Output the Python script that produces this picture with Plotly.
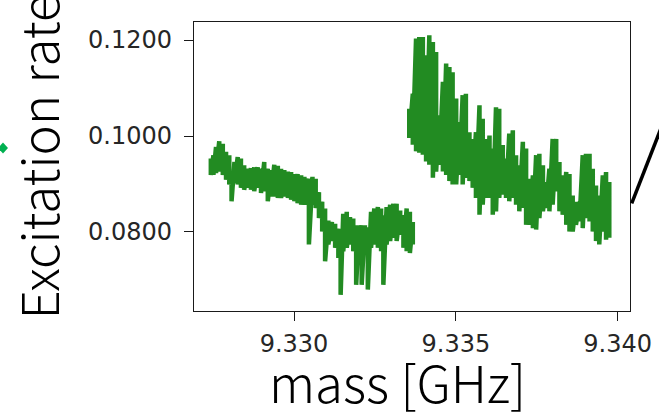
import plotly.graph_objects as go

# ---- data ----
mass_low = [9.32743, 9.32751, 9.32759, 9.32769, 9.32780, 9.32790, 9.32800, 9.32807, 9.32816, 9.32826,
            9.32836, 9.32846, 9.32857, 9.32867, 9.32877, 9.32888, 9.32898, 9.32908, 9.32919, 9.32929,
            9.32939, 9.32950, 9.32960, 9.32970, 9.32981, 9.32991, 9.33001, 9.33011, 9.33022, 9.33032,
            9.33046, 9.33057, 9.33067, 9.33077, 9.33087, 9.33096, 9.33106, 9.33117, 9.33127, 9.33137,
            9.33144, 9.33152, 9.33163, 9.33173, 9.33183, 9.33192, 9.33201, 9.33209, 9.33219, 9.33228,
            9.33238, 9.33248, 9.33259, 9.33269, 9.33276, 9.33286, 9.33297, 9.33307, 9.33317, 9.33328,
            9.33338, 9.33348, 9.33358, 9.33367]
rate_low_hi = [0.0953, 0.0960, 0.0977, 0.0989, 0.0984, 0.0967, 0.0960, 0.0925, 0.0946, 0.0956,
               0.0953, 0.0939, 0.0932, 0.0933, 0.0935, 0.0935, 0.0932, 0.0946, 0.0932, 0.0929,
               0.0940, 0.0938, 0.0932, 0.0929, 0.0926, 0.0925, 0.0921, 0.0921, 0.0918, 0.0915,
               0.0911, 0.0915, 0.0911, 0.0883, 0.0863, 0.0849, 0.0824, 0.0821, 0.0817, 0.0807,
               0.0800, 0.0838, 0.0842, 0.0831, 0.0828, 0.0814, 0.0814, 0.0814, 0.0814, 0.0810,
               0.0842, 0.0849, 0.0852, 0.0849, 0.0835, 0.0852, 0.0857, 0.0859, 0.0859, 0.0845,
               0.0835, 0.0849, 0.0842, 0.0821]
rate_low_lo = [0.0919, 0.0919, 0.0923, 0.0926, 0.0919, 0.0909, 0.0899, 0.0864, 0.0902, 0.0899,
               0.0892, 0.0888, 0.0892, 0.0888, 0.0885, 0.0892, 0.0881, 0.0885, 0.0864, 0.0874,
               0.0874, 0.0871, 0.0871, 0.0874, 0.0871, 0.0867, 0.0864, 0.0860, 0.0857, 0.0857,
               0.0774, 0.0857, 0.0850, 0.0829, 0.0801, 0.0739, 0.0774, 0.0781, 0.0767, 0.0746,
               0.0669, 0.0760, 0.0767, 0.0774, 0.0760, 0.0690, 0.0760, 0.0690, 0.0760, 0.0680,
               0.0767, 0.0774, 0.0767, 0.0760, 0.0690, 0.0774, 0.0781, 0.0788, 0.0781, 0.0794,
               0.0767, 0.0760, 0.0756, 0.0774]

mass_high = [9.33356, 9.33367, 9.33377, 9.33387, 9.33398, 9.33408, 9.33418, 9.33429, 9.33439, 9.33449,
             9.33460, 9.33470, 9.33480, 9.33490, 9.33501, 9.33511, 9.33521, 9.33531, 9.33542, 9.33552,
             9.33562, 9.33573, 9.33583, 9.33593, 9.33604, 9.33614, 9.33624, 9.33634, 9.33645, 9.33655,
             9.33665, 9.33676, 9.33686, 9.33696, 9.33707, 9.33717, 9.33727, 9.33738, 9.33748, 9.33758,
             9.33769, 9.33779, 9.33789, 9.33799, 9.33810, 9.33820, 9.33830, 9.33841, 9.33851, 9.33861,
             9.33871, 9.33882, 9.33892, 9.33902, 9.33913, 9.33923, 9.33933, 9.33943, 9.33954, 9.33964,
             9.33974]
rate_high_hi = [0.1057, 0.1088, 0.1203, 0.1206, 0.1206, 0.1168, 0.1210, 0.1196, 0.1175, 0.1043,
                0.1113, 0.1151, 0.1144, 0.1133, 0.1078, 0.1029, 0.1085, 0.1088, 0.1008, 0.0994,
                0.1008, 0.1064, 0.1036, 0.0994, 0.1001, 0.0974, 0.1060, 0.1057, 0.0981, 0.0953,
                0.1005, 0.1012, 0.0960, 0.0939, 0.0988, 0.0974, 0.0911, 0.0918, 0.0960, 0.0963,
                0.0939, 0.0904, 0.0932, 0.0994, 0.0994, 0.0946, 0.0918, 0.0925, 0.0921, 0.0876,
                0.0863, 0.0863, 0.0960, 0.0963, 0.0963, 0.0932, 0.0897, 0.0876, 0.0918, 0.0925,
                0.0904]
rate_high_lo = [0.0996, 0.0982, 0.0968, 0.0965, 0.0961, 0.0947, 0.0940, 0.0913, 0.0926, 0.0940,
                0.0926, 0.0919, 0.0906, 0.0899, 0.0899, 0.0919, 0.0899, 0.0913, 0.0906, 0.0892,
                0.0871, 0.0836, 0.0857, 0.0871, 0.0871, 0.0836, 0.0843, 0.0871, 0.0878, 0.0871,
                0.0864, 0.0871, 0.0857, 0.0843, 0.0850, 0.0815, 0.0815, 0.0808, 0.0805, 0.0829,
                0.0843, 0.0850, 0.0843, 0.0857, 0.0885, 0.0843, 0.0836, 0.0815, 0.0801, 0.0801,
                0.0815, 0.0822, 0.0808, 0.0829, 0.0822, 0.0801, 0.0781, 0.0774, 0.0801, 0.0784,
                0.0788]

x_ticks = [9.330, 9.335, 9.340]
y_ticks = [0.08, 0.10, 0.12]


def zigzag(xs, hi, lo):
    px, py = [], []
    for x, a, b in zip(xs, hi, lo):
        px += [x, x]
        py += [a, b]
    return px, py


GREEN = "#228B22"
fig = go.Figure()
for xs, hi, lo in [(mass_low, rate_low_hi, rate_low_lo), (mass_high, rate_high_hi, rate_high_lo)]:
    zx, zy = zigzag(xs, hi, lo)
    fig.add_trace(go.Scatter(x=zx, y=zy, mode="lines",
                             line=dict(color=GREEN, width=4.5), showlegend=False,
                             hoverinfo="skip", cliponaxis=False))

W, H = 659, 416
L, R, T, B = 194, 29, 22, 105
pw, ph = W - L - R, H - T - B


def px2paper(x, y):
    return (x - L) / pw, (H - B - y) / ph


axis_common = dict(showline=True, mirror=True, linecolor="#1a1a1a", linewidth=1.4,
                   ticks="outside", ticklen=9, tickwidth=1.4, tickcolor="#1a1a1a",
                   showgrid=False, zeroline=False, automargin=False,
                   tickfont=dict(family="DejaVu Sans", size=24, color="#262626"))

fig.update_layout(
    width=W, height=H,
    margin=dict(l=L, r=R, t=T, b=B, pad=0, autoexpand=False),
    paper_bgcolor="white", plot_bgcolor="white",
    xaxis=dict(range=[9.32691, 9.34038], tickvals=x_ticks, tickformat=".3f",
               ticklabelstandoff=2, **axis_common),
    yaxis=dict(range=[0.06354, 0.12375], tickvals=y_ticks, tickformat=".4f",
               ticklabelstandoff=7, **axis_common),
)

TITLE_FONT = dict(family="Noto Sans CJK JP", size=51, color="black", weight=300)

# axis titles
ax_x, ax_y = px2paper(397, 420)
fig.add_annotation(text="mass [GHz]", xref="paper", yref="paper", x=ax_x, y=ax_y,
                   xanchor="center", yanchor="bottom", showarrow=False, font=TITLE_FONT)
ay_x, ay_y = px2paper(36, 322)
fig.add_annotation(text="Excitation rate", xref="paper", yref="paper", x=ay_x, y=ay_y,
                   xanchor="center", yanchor="bottom", textangle=-90, showarrow=False,
                   font=TITLE_FONT)

# decorations outside the axes
d = [px2paper(-2, 148), px2paper(3, 142.5), px2paper(8, 148), px2paper(3, 153.5)]
path = "M {} {} L {} {} L {} {} L {} {} Z".format(*[v for p in d for v in p])
fig.add_shape(type="path", path=path, xref="paper", yref="paper",
              fillcolor="#00B050", line=dict(width=0))
x0, y0 = px2paper(631.7, 203.3)
x1, y1 = px2paper(672, 100)
fig.add_shape(type="line", x0=x0, y0=y0, x1=x1, y1=y1, xref="paper", yref="paper",
              line=dict(color="black", width=3.5))

fig.write_html("out.html", config={"displayModeBar": False},
               post_script="document.body.style.margin='0';")
